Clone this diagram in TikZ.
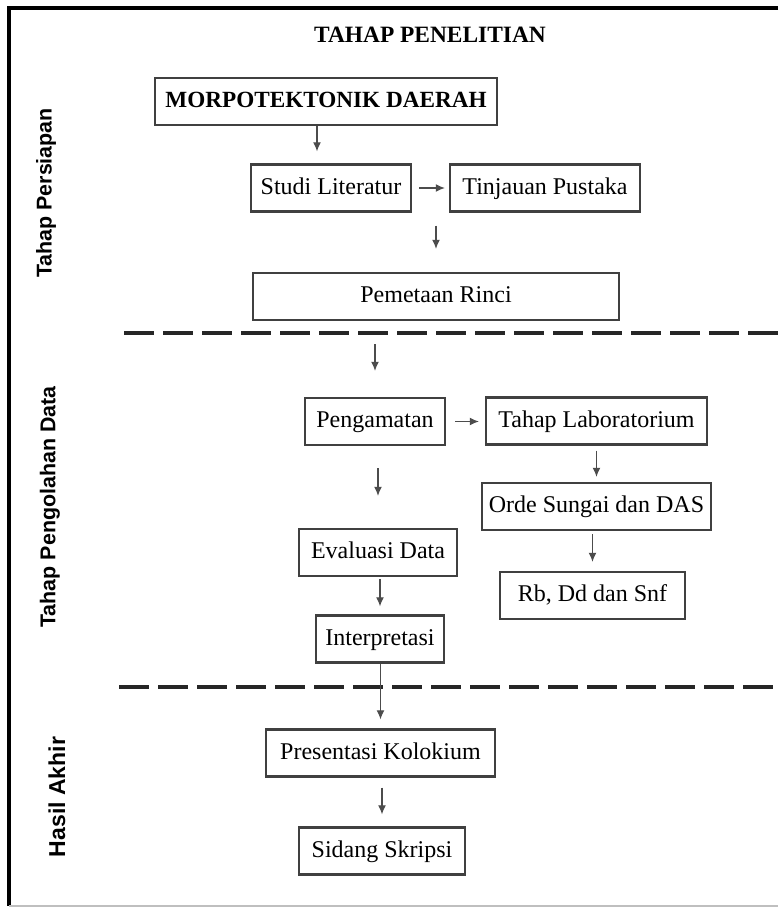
\documentclass[tikz,border=0pt]{standalone}
\usepackage{fontspec}
\setmainfont{Liberation Serif}
\newfontfamily\sidefont{Liberation Sans}
\usetikzlibrary{arrows.meta}
\tikzset{
  box/.style={draw=black!75,line width=1.2pt,minimum height=23.5pt,inner sep=0pt,
    text height=8.5pt,text depth=2.5pt,font=\fontsize{12}{14}\selectfont},
  arr/.style={draw=black!70,line width=0.6pt,-{Latex[length=4.5pt,width=4pt]}},
  sekat/.style={line width=2pt,black!85,dash pattern=on 15pt off 4.5pt},
  tahap/.style={rotate=90,font=\sidefont\bfseries\fontsize{10.7}{12}\selectfont}
}
\begin{document}
\begin{tikzpicture}
  [x=0.5pt,y=-0.5pt]
  \useasboundingbox[fill=white] (0,0) rectangle (778,911);
  % bingkai
  \draw[line width=1.6pt] (778,8) -- (9,8) -- (9,906);
  \draw[line width=0.6pt,black!25] (9,906) -- (778,906);
  \node (judul) at (430,35) {\bfseries\fontsize{11.7}{13}\selectfont TAHAP PENELITIAN};
  \node[tahap] (persiapan) at (46,193) {Tahap Persiapan};
  \node[tahap] (olah) at (50,507) {Tahap Pengolahan Data};
  \node[tahap,font=\sidefont\bfseries\fontsize{11.5}{13}\selectfont] (hasil) at (57,797) {Hasil Akhir};
  % kotak
  \node[box,minimum width=171pt,font=\bfseries\fontsize{11.6}{14}\selectfont] (morfo) at (326,101.5) {MORPOTEKTONIK DAERAH};
  \node[box,minimum width=80pt] (studi) at (331,188) {Studi Literatur};
  \node[box,minimum width=95pt] (tinjauan) at (545,188) {Tinjauan Pustaka};
  \node[box,minimum width=183pt] (pemetaan) at (436,296.5) {Pemetaan Rinci};
  \node[box,minimum width=70pt] (amat) at (375,421.5) {Pengamatan};
  \node[box,minimum width=110.5pt] (lab) at (596.5,421) {Tahap Laboratorium};
  \node[box,minimum width=114.5pt] (orde) at (596.5,506.5) {Orde Sungai dan DAS};
  \node[box,minimum width=92.5pt] (rb) at (592.5,595.5) {Rb, Dd dan Snf};
  \node[box,minimum width=79pt] (eval) at (378,552.5) {Evaluasi Data};
  \node[box,minimum width=64pt] (interp) at (380,639) {Interpretasi};
  \node[box,minimum width=114.5pt] (presentasi) at (380.5,753) {Presentasi Kolokium};
  \node[box,minimum width=83pt] (sidang) at (382,851) {Sidang Skripsi};
  % garis batas tahap
  \draw[sekat] (124,333) -- (778,333);
  \draw[sekat] (119,687) -- (778,687);
  % panah
  \draw[arr,shorten >=6pt] ([xshift=-4.5pt]morfo.south) -- ([xshift=-4.5pt]morfo.south |- studi.north);
  \foreach \from/\to/\a/\b in {studi/tinjauan/3.5/2,amat/lab/4.5/3}
    \draw[arr,shorten <=\a pt,shorten >=\b pt] (\from.east) -- (\from.east -| \to.west);
  \foreach \from/\to/\a/\b in {studi/pemetaan/6.5/11.5,pemetaan/amat/11.5/13,lab/orde/2.5/2.5,
      orde/rb/1.5/4.5,amat/eval/11/16,eval/interp/1/4,interp/presentasi/0/4.5,presentasi/sidang/5/6}
    \draw[arr,shorten <=\a pt,shorten >=\b pt] (\from.south -| \to.north) -- (\to.north);
\end{tikzpicture}
\end{document}
